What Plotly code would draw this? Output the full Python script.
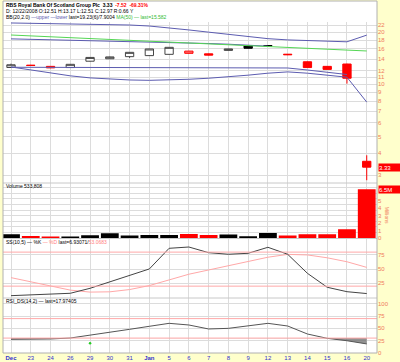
import numpy as np
import plotly.graph_objects as go

# ---------------- data ----------------
dates = ["Dec", "23", "24", "26", "29", "30", "31", "Jan", "5", "6", "7", "8",
         "9", "12", "13", "14", "15", "16", "20"]
opens = [12.51, 12.90, 12.45, 12.50, 13.60, 14.05, 14.45, 14.65, 14.90, 15.10,
         15.00, 15.70, 16.70, 16.75, 14.80, 13.50, 12.70, 13.10, 3.60]
highs = [13.17, 12.95, 12.75, 13.10, 14.35, 14.45, 15.35, 16.05, 16.40, 15.60,
         15.05, 16.05, 16.75, 16.80, 14.95, 13.55, 12.75, 13.15, 3.90]
lows = [12.51, 12.80, 12.40, 12.45, 13.55, 14.00, 14.20, 14.60, 14.85, 15.05,
        14.70, 15.65, 16.10, 16.65, 14.75, 12.45, 12.15, 10.10, 2.80]
closes = [12.97, 12.85, 12.70, 13.05, 14.30, 14.40, 15.30, 16.00, 16.35, 15.55,
          14.75, 16.00, 16.15, 16.70, 14.90, 12.50, 12.20, 10.85, 3.33]
volume = [533808, 300000, 220000, 220000, 400000, 660000, 360000, 440000, 440000,
          570000, 440000, 490000, 270000, 700000, 360000, 530000, 530000, 1190000,
          6500000]
bb_upper = [22.6, 22.5, 22.4, 22.3, 22.2, 22.1, 22.0, 21.7, 21.2, 20.6, 20.0,
            19.4, 18.8, 18.35, 18.05, 17.85, 17.7, 17.6, 19.23]
bb_lower = [12.6, 12.1, 11.6, 11.2, 10.9, 10.7, 10.6, 10.55, 10.6, 10.7, 10.85,
            11.05, 11.3, 11.6, 11.8, 11.6, 11.3, 11.0, 7.90]
bb_mid = [18.3, 18.2, 18.1, 18.0, 17.9, 17.8, 17.7, 17.6, 17.5, 17.35, 17.2,
          17.05, 16.85, 16.6, None, None, None, None, None]
trend_line = [12.55, 12.55, 12.54, 12.53, 12.52, 12.51, 12.50, 12.50, 12.49,
              12.48, 12.47, 12.46, 12.45, 12.44, 12.43, 12.10, 11.75, 11.40, None]
ma50 = [19.26, 19.04, 18.82, 18.60, 18.38, 18.17, 17.96, 17.75, 17.54, 17.34,
        17.14, 16.94, 16.74, 16.55, 16.36, 16.17, 15.98, 15.80, 15.58]
stoch_k = [3.2, 4.5, 6.0, 7.4, 16.2, 27.9, 38.5, 50.3, 86.7, 89.0, 79.0, 76.2,
           77.9, 88.5, 76.2, 42.6, 18.0, 10.2, 6.93]
stoch_d = [35, 28, 20, 13, 9.5, 10, 14, 21, 31, 41, 48.5, 56, 64, 71, 76, 75,
           70, 63, 53.07]
rsi = [27.5, 27.6, 28.2, 30.1, 35.7, 41.9, 48.0, 54.2, 60.3, 56.9, 48.7, 50.0,
       55.5, 60.3, 54.8, 38.4, 29.5, 24.6, 17.97]
rsi_marker_day = [4]
rsi_marker_val = [19.3]
price_ticks = [22, 20, 18, 16, 14, 12, 11, 10, 9, 8, 7, 6, 5, 4, 3]
vol_ticks = [0, 1e6, 2e6, 3e6, 4e6, 5e6]
vol_tick_text = ["0", "1", "2", "3", "4", "5"]
ss_ticks = [25, 50, 75]
ss_levels = [20, 80]
rsi_ticks = [0, 25, 50, 75, 100]
rsi_levels = [30, 70]

# ---------------- layout geometry ----------------
W, H = 400, 362
ML, MR, MT, MB = 3, 23, 1, 9
PH = H - MT - MB


def py(ypx):
    return (H - MB - ypx) / PH


n = len(dates)
x = list(range(n))
up = [True] + [closes[i] >= closes[i - 1] for i in range(1, n)]
bi = [i for i in x if up[i]]
ri = [i for i in x if not up[i]]

BLUE = "#5C5CB0"
GREEN = "#55D655"
RED = "#FF0000"
PINK = "#FFA8A8"
GRID = "#DCDCDC"
AXC = "#F07A5C"
FONT = "Liberation Sans"

fig = go.Figure()

# price overlays
fig.add_trace(go.Scatter(x=x, y=bb_upper, mode="lines", line=dict(color=BLUE, width=1), yaxis="y"))
fig.add_trace(go.Scatter(x=x, y=bb_lower, mode="lines", line=dict(color=BLUE, width=1), yaxis="y"))
fig.add_trace(go.Scatter(x=x, y=bb_mid, mode="lines", line=dict(color=BLUE, width=1), yaxis="y"))
fig.add_trace(go.Scatter(x=x, y=trend_line, mode="lines", line=dict(color=BLUE, width=1), yaxis="y"))
fig.add_trace(go.Scatter(x=x, y=ma50, mode="lines", line=dict(color=GREEN, width=1), yaxis="y"))

# candles
fig.add_trace(go.Candlestick(
    x=bi, open=[opens[i] for i in bi], high=[highs[i] for i in bi],
    low=[lows[i] for i in bi], close=[closes[i] for i in bi],
    increasing=dict(line=dict(color="#444444", width=1), fillcolor="white"),
    decreasing=dict(line=dict(color="#000000", width=1), fillcolor="#000000"),
    whiskerwidth=0, yaxis="y"))
fig.add_trace(go.Candlestick(
    x=ri, open=[opens[i] for i in ri], high=[highs[i] for i in ri],
    low=[lows[i] for i in ri], close=[closes[i] for i in ri],
    increasing=dict(line=dict(color=RED, width=1), fillcolor="white"),
    decreasing=dict(line=dict(color=RED, width=1), fillcolor=RED),
    whiskerwidth=0, yaxis="y"))

# volume
fig.add_trace(go.Bar(x=x, y=volume, width=0.9,
                     marker=dict(color=["#000000" if u else RED for u in up], line=dict(width=0)),
                     yaxis="y2"))

# slow stochastic
fig.add_trace(go.Scatter(x=x, y=stoch_d, mode="lines", line=dict(color=PINK, width=1), yaxis="y3"))
fig.add_trace(go.Scatter(x=x, y=stoch_k, mode="lines", line=dict(color="#444444", width=1), yaxis="y3"))

# RSI with shaded area below 30
fig.add_trace(go.Scatter(x=x, y=[rsi_levels[0]] * n, mode="lines", line=dict(width=0), yaxis="y4"))
fig.add_trace(go.Scatter(x=x, y=[min(v, rsi_levels[0]) for v in rsi], mode="lines",
                         line=dict(width=0), fill="tonexty", fillcolor="rgba(110,110,110,0.75)", yaxis="y4"))
fig.add_trace(go.Scatter(x=x, y=rsi, mode="lines", line=dict(color="#555555", width=1), yaxis="y4"))
fig.add_trace(go.Scatter(x=rsi_marker_day, y=rsi_marker_val, mode="markers",
                         marker=dict(color="#22CC22", size=2.5), yaxis="y4"))

d_price = [py(183), py(22)]
d_vol = [py(238.5), py(183)]
d_ss = [py(298), py(238.5)]
d_rsi = [0, py(298)]

tickfont = dict(family=FONT, size=6, color=AXC)
common_y = dict(side="right", anchor="x", showline=False, zeroline=False, ticks="",
                tickfont=tickfont, gridcolor=GRID, gridwidth=1, fixedrange=True)

fig.update_layout(
    width=W, height=H,
    margin=dict(l=ML, r=MR, t=MT, b=MB),
    paper_bgcolor="#FFFFCC", plot_bgcolor="white",
    showlegend=False, hovermode=False, boxgap=0.4,
    font=dict(family=FONT, size=6),
    xaxis=dict(range=[-0.405, 18.52], anchor="y4", tickmode="array", tickvals=x,
               ticktext=[f"<b>{d}</b>" if d in ("Dec", "Jan") else d for d in dates],
               tickfont=dict(family=FONT, size=6, color="#3333CC"),
               showgrid=True, gridcolor=GRID, zeroline=False, ticks="",
               rangeslider=dict(visible=False), showline=False, fixedrange=True),
    yaxis=dict(domain=d_price, type="log",
               range=[0.4311, 1.3597], tickmode="array", tickvals=price_ticks,
               ticktext=[str(t) for t in price_ticks], **common_y),
    yaxis2=dict(domain=d_vol, range=[-0.03e6, 7.33e6], tickmode="array",
                tickvals=vol_ticks, ticktext=vol_tick_text, showgrid=False,
                minor=dict(tick0=0, dtick=0.75e6, showgrid=True, gridcolor=GRID, ticks=""),
                **common_y),
    yaxis3=dict(domain=d_ss, range=[-0.9, 104], tickmode="array", tickvals=ss_ticks,
                **common_y),
    yaxis4=dict(domain=d_rsi, range=[-0.6, 112.3], tickmode="array", tickvals=rsi_ticks,
                **common_y),
)

shapes = []
# white header band
shapes.append(dict(type="rect", xref="paper", yref="paper", x0=0, x1=1, y0=d_price[1], y1=1,
                   fillcolor="white", line=dict(width=0), layer="below"))
# indicator reference levels
for lv in ss_levels:
    shapes.append(dict(type="line", xref="paper", yref="y3", x0=0, x1=1, y0=lv, y1=lv,
                       line=dict(color=PINK, width=1)))
for lv in rsi_levels:
    shapes.append(dict(type="line", xref="paper", yref="y4", x0=0, x1=1, y0=lv, y1=lv,
                       line=dict(color=PINK, width=1)))
# panel separators and border
for yy in (d_vol[1], d_ss[1], d_rsi[1]):
    shapes.append(dict(type="line", xref="paper", yref="paper", x0=0, x1=1, y0=yy, y1=yy,
                       line=dict(color="#C8C8C8", width=1)))
shapes.append(dict(type="rect", xref="paper", yref="paper", x0=0, x1=1, y0=0, y1=1,
                   line=dict(color="#B0B0B0", width=1)))
fig.update_layout(shapes=shapes)

ann = []
hdr = dict(xref="paper", yref="paper", x=0.002, xanchor="left", yanchor="middle",
           showarrow=False, font=dict(family=FONT, size=5, color="#000000"))
ann.append(dict(text="<b>RBS Royal Bank Of Scotland Group Plc</b>  <b>3.33</b>  "
                     "<span style='color:#FF0000'><b>-7.52  -69.31%</b></span>",
                y=py(5), **hdr))
ann.append(dict(text="D: 12/22/2008 O:12.51 H:13.17 L:12.51 C:12.97 R:0.66 Y",
                y=py(11), **hdr))
ann.append(dict(text="BB(20,2.0) <span style='color:#5C5CB0'>—upper —lower</span> "
                     "last=19.23(6)/7.9004 <span style='color:#33BB33'>MA(50) — last=15.582</span>",
                y=py(17), **hdr))
ann.append(dict(text="Volume 533,808", y=py(185.5), **hdr))
ann.append(dict(text="SS(10,5) — %K <span style='color:#FF8080'>— %D</span> last=6.93071/"
                     "<span style='color:#FF8080'>53.0683</span>", y=py(241.7), **hdr))
ann.append(dict(text="RSI_DS(14,2) — last=17.97405", y=py(300.5), **hdr))

# last value tags
ann.append(dict(xref="paper", x=1, xanchor="left", xshift=1, yref="y",
                y=float(np.log10(closes[-1])), yanchor="middle",
                text=f"{closes[-1]:.2f}", showarrow=False, bgcolor=RED,
                font=dict(family=FONT, size=6, color="white"), width=21, height=7,
                borderpad=0, align="left"))
ann.append(dict(xref="paper", x=1, xanchor="left", xshift=1, yref="y2",
                y=volume[-1], yanchor="middle",
                text=f"{volume[-1] / 1e6:.1f}M", showarrow=False, bgcolor=RED,
                font=dict(family=FONT, size=6, color="white"), width=21, height=7,
                borderpad=0, align="left"))
ann.append(dict(xref="paper", x=1.027, xanchor="center", yref="y2", y=3.1e6,
                text="Millions", textangle=90, showarrow=False,
                font=dict(family=FONT, size=5, color=AXC)))
fig.update_layout(annotations=ann)

fig.write_html("out.html")
